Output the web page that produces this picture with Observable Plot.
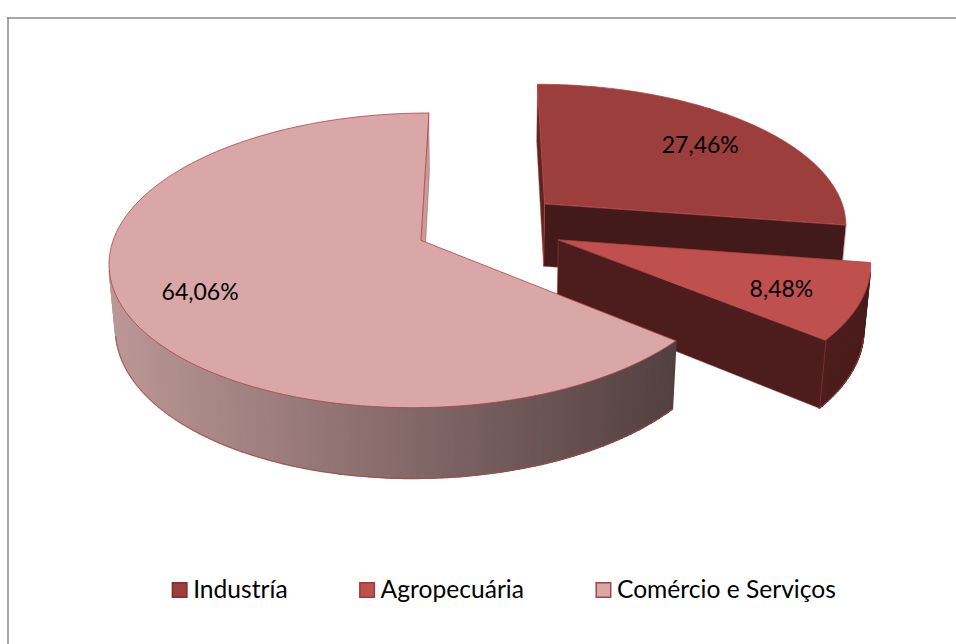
<!DOCTYPE html>
<html><head><meta charset="utf-8">
<script src="https://cdn.jsdelivr.net/npm/d3@7"></script>
<script src="https://cdn.jsdelivr.net/npm/@observablehq/plot@0.6"></script>
<style>body{margin:0;background:#fff;} #chart svg{display:block;}</style>
</head><body><div id="chart"></div>
<script>
// ---- data ----
const categories = ["Industría", "Agropecuária", "Comércio e Serviços"];
const shares = [27.46, 8.48, 64.06];
const labels = ["27,46%", "8,48%", "64,06%"];

// ---- styles ----
const topColors   = ["#9b3e3c", "#c0504d", "#d9a7a7"];
const wallLight   = ["#441a19", "#4e1d1d", "#bc9797"];
const wallDark    = ["#441a19", "#4a1b1b", "#534040"];
const startFaceColors = ["#5c2524", "#4d1d1d", "#8a6a6a"];
const endFaceColors   = ["#421a19", "#4d1d1d", "#c49c9c"];
const legendStroke = ["#7e302e", "#9a3b39", "#9b4644"];
const edgeColor = "#ad4442";

// ---- geometry (camera / pie model) ----
const W = 956, H = 644;
const deg = Math.PI / 180;
const cam = {f: 2015, cx: 482.5, cy: 240, tilt: 28, dist: 6.54};
const sa = Math.sin(cam.tilt * deg), ca = Math.cos(cam.tilt * deg);
const pieCenter = [0.021, 0.105], explode = 0.245, thickness = 0.24;

function proj(u, w, z) { const d = cam.dist + ca * w - sa * z; return [u / d, (sa * w + ca * z) / d]; }
const toPx = p => [cam.cx + cam.f * p[0], cam.cy - cam.f * p[1]];
const dir = t => [Math.sin(t * deg), Math.cos(t * deg)];
function areaPx(pts) {
  const q = pts.map(toPx); let a = 0;
  for (let k = 0; k < q.length; k++) { const p = q[k], r = q[(k + 1) % q.length]; a += p[0] * r[1] - r[0] * p[1]; }
  return a;
}
const total = d3.sum(shares);
let acc = 0;
const slices = shares.map((v, i) => {
  const a0 = acc / total * 360; acc += v; const a1 = acc / total * 360;
  const am = (a0 + a1) / 2, dm = dir(am);
  return {i, a0, a1, am, vu: pieCenter[0] + explode * dm[0], vw: pieCenter[1] + explode * dm[1]};
});
const rim = (s, t, z) => { const d = dir(t); return proj(s.vu + d[0], s.vw + d[1], z); };
const ctr = (s, z) => proj(s.vu, s.vw, z);
const arcAngles = (a0, a1) => { const n = Math.max(2, Math.ceil(a1 - a0)); return d3.range(n + 1).map(k => a0 + (a1 - a0) * k / n); };

const marks = [];
const invX = px => (px - cam.cx) / cam.f, invY = py => (cam.cy - py) / cam.f;

// frame (top and left borders)
marks.push(Plot.ruleY([invY(17.5)], {x1: invX(7), x2: invX(W), stroke: "#8a8a8a", strokeWidth: 1.5}));
marks.push(Plot.ruleX([invX(7.5)], {y1: invY(17), y2: invY(H), stroke: "#8a8a8a", strokeWidth: 1.5}));

const zb = -thickness;
slices.forEach(s => {
  const wallRows = [], faceRows = [], faceEdgeRows = [], arcEdgeRows = [], topRows = [];
  const pushPoly = (rows, id, pts, color) => pts.forEach(p => rows.push({id, x: p[0], y: p[1], color}));
  // outer wall quads
  const ang = arcAngles(s.a0, s.a1);
  const quads = [];
  for (let k = 0; k < ang.length - 1; k++) {
    const q = [rim(s, ang[k], 0), rim(s, ang[k + 1], 0), rim(s, ang[k + 1], zb), rim(s, ang[k], zb)];
    if (areaPx(q) < 0) quads.push({q, k, xc: toPx(q[0])[0]});
  }
  const xs = d3.extent(quads, d => d.xc);
  const grad = d3.interpolateRgb(wallLight[s.i], wallDark[s.i]);
  quads.forEach(d => {
    const t = xs[1] > xs[0] ? (d.xc - xs[0]) / (xs[1] - xs[0]) : 0;
    pushPoly(wallRows, "q" + d.k, d.q, grad(t));
  });
  // bottom edge runs
  let run = -1, prev = -2;
  quads.forEach(d => {
    if (d.k !== prev + 1) run++;
    prev = d.k;
    if (arcEdgeRows.length === 0 || arcEdgeRows[arcEdgeRows.length - 1].id !== "r" + run) {
      const p = rim(s, ang[d.k], zb); arcEdgeRows.push({id: "r" + run, x: p[0], y: p[1]});
    }
    const p = rim(s, ang[d.k + 1], zb); arcEdgeRows.push({id: "r" + run, x: p[0], y: p[1]});
  });
  // radial faces
  const faceStart = [ctr(s, 0), rim(s, s.a0, 0), rim(s, s.a0, zb), ctr(s, zb)];
  const faceEnd = [rim(s, s.a1, 0), ctr(s, 0), ctr(s, zb), rim(s, s.a1, zb)];
  if (areaPx(faceStart) < 0) { pushPoly(faceRows, "fs", faceStart, startFaceColors[s.i]); pushPoly(faceEdgeRows, "fs", faceStart); }
  if (areaPx(faceEnd) < 0) { pushPoly(faceRows, "fe", faceEnd, endFaceColors[s.i]); pushPoly(faceEdgeRows, "fe", faceEnd); }
  // top face
  const topPts = [ctr(s, 0), ...ang.map(t => rim(s, t, 0))];
  pushPoly(topRows, "top", topPts, topColors[s.i]);

  marks.push(Plot.line(wallRows, {x: "x", y: "y", z: "id", fill: "color", stroke: "color", strokeWidth: 1.6, curve: "linear-closed"}));
  marks.push(Plot.line(faceRows, {x: "x", y: "y", z: "id", fill: "color", curve: "linear-closed"}));
  marks.push(Plot.line(faceEdgeRows, {x: "x", y: "y", z: "id", stroke: edgeColor, strokeWidth: 0.6, strokeOpacity: 0.8, curve: "linear-closed"}));
  marks.push(Plot.line(arcEdgeRows, {x: "x", y: "y", z: "id", stroke: edgeColor, strokeWidth: 0.8}));
  marks.push(Plot.line(topRows, {x: "x", y: "y", z: "id", fill: "color", stroke: edgeColor, strokeWidth: 0.8, curve: "linear-closed"}));
});

// data labels
const labelRows = slices.map(s => {
  const d = dir(s.am); const p = proj(s.vu + 0.75 * d[0], s.vw + 0.75 * d[1], 0);
  return {x: p[0], y: p[1], text: labels[s.i]};
});
marks.push(Plot.text(labelRows, {x: "x", y: "y", text: "text", fontSize: 23, fontFamily: "Lato", fill: "black", dy: 4}));

// legend
const legendFont = 24.6;
const ctx = document.createElement("canvas").getContext("2d");
ctx.font = legendFont + "px Lato";
const sq = 16, gapText = 5, gapItem = 72, legendY = 590;
const widths = categories.map(c => ctx.measureText(c).width);
const totalW = d3.sum(widths) + categories.length * (sq + gapText) + (categories.length - 1) * gapItem;
let lx = 503.5 - totalW / 2;
const legendRows = categories.map((c, i) => {
  const r = {name: c, x1: invX(lx), x2: invX(lx + sq), y1: invY(legendY - sq / 2), y2: invY(legendY + sq / 2),
    tx: invX(lx + sq + gapText), ty: invY(legendY), fill: topColors[i], stroke: legendStroke[i]};
  lx += sq + gapText + widths[i] + gapItem;
  return r;
});
marks.push(Plot.rect(legendRows, {x1: "x1", x2: "x2", y1: "y1", y2: "y2", fill: "fill", stroke: "stroke", strokeWidth: 1.5, inset: 0.75}));
marks.push(Plot.text(legendRows, {x: "tx", y: "ty", text: "name", textAnchor: "start", fontSize: legendFont, fontFamily: "Lato", fill: "black"}));

const chart = Plot.plot({
  width: W, height: H, margin: 0,
  x: {domain: [-cam.cx / cam.f, (W - cam.cx) / cam.f], range: [0, W], axis: null},
  y: {domain: [cam.cy / cam.f, (cam.cy - H) / cam.f], range: [0, H], axis: null},
  color: {type: "identity"},
  style: {background: "white"},
  marks
});
document.getElementById("chart").appendChild(chart);
</script>
</body></html>
